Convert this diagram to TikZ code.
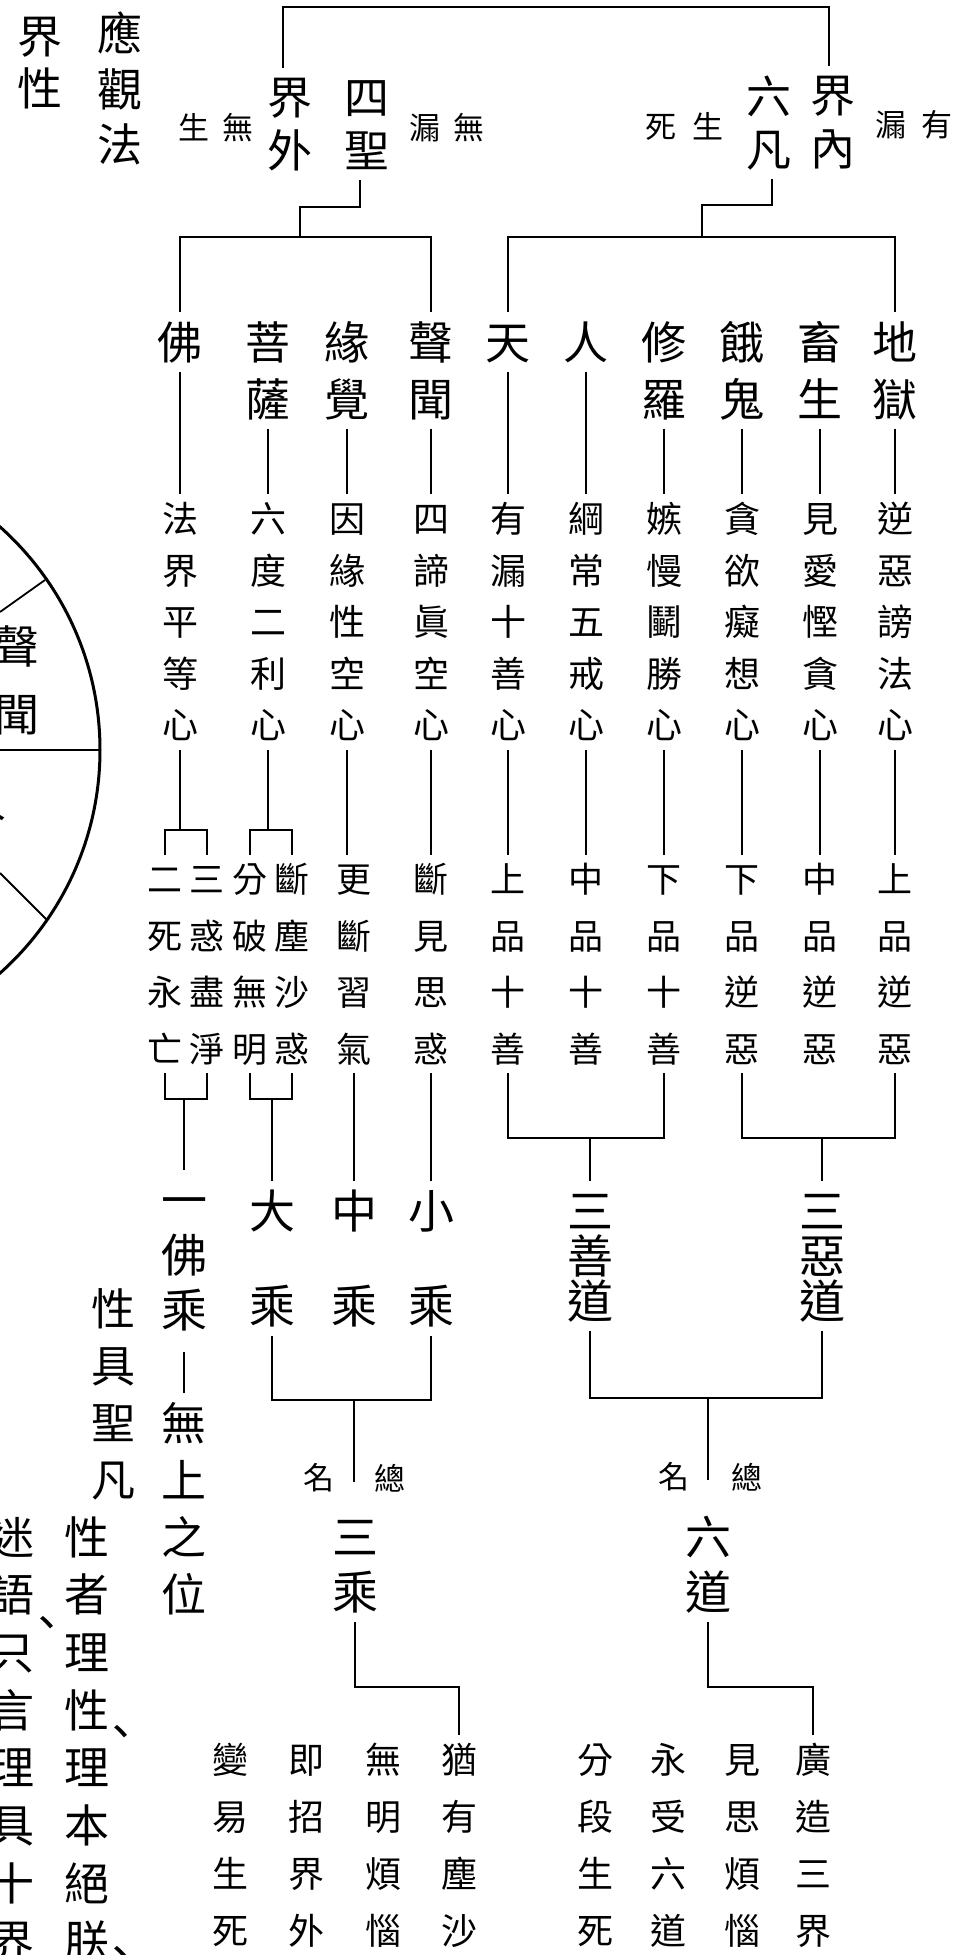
\documentclass[tikz,border=0pt]{standalone}
\usepackage{fontspec}
\usepackage{tikz}
\usetikzlibrary{positioning}
\newfontfamily\cjk{Noto Sans CJK TC}
\newlength\vpitch
\makeatletter
\newcommand\vcol[1]{\vbox{\offinterlineskip\let\vc@sep\relax
  \@tfor\vc@ch:=#1\do{\vc@sep\hbox to 1em{\hss\vrule height .88em depth .12em width 0pt\vc@ch\hss}%
  \def\vc@sep{\kern\dimexpr\vpitch-1em\relax}}}}
\makeatother
\tikzset{
  vt/.style 2 args={inner sep=7pt, font={\cjk\fontsize{#1pt}{#1pt}\selectfont\setlength\vpitch{#2pt}}},
  hd/.style={vt={45}{57}},
  md/.style={vt={36}{51.5}},
  lo/.style={vt={35}{56.5}},
  bt/.style={vt={36}{57}},
  lb/.style={inner sep=7pt, font=\cjk\fontsize{31pt}{31pt}\selectfont},
  pu/.style={inner sep=0pt, font=\cjk\fontsize{45pt}{45pt}\selectfont},
  ln/.style={line width=1.8pt}
}
\begin{document}
\begin{tikzpicture}[x=1pt, y=-1pt]
            \useasboundingbox (0,0) rectangle (960,1955);
            \clip (0,0) rectangle (960,1955);

            % wheel at the left edge
            \draw[line width=3pt] (-199,750) circle[radius=299pt];
            \draw[ln] (0,612) -- (45,580);
            \draw[ln] (0,750) -- (100,750);
            \draw[ln] (0,873) -- (47,920);
            \node[vt={45}{68}] (wc1) at (17,680) {\vcol{聲聞}};
            \node[hd] (wc2) at (-16,800) {\vcol{人}};

            \node[vt={45}{52}] (jx) at (40,62) {\vcol{界性}};
            \node[vt={45}{55.5}] (yg) at (120,89) {\vcol{應觀法}};

            \node[vt={45}{53}] (jw) at (290,124) {\vcol{界外}};
            \node[vt={45}{53}] (sd) at (367,124) {\vcol{四聖}};
            \node[vt={45}{53}] (lf) at (769,123) {\vcol{六凡}};
            \node[vt={45}{53}] (jn) at (833,122) {\vcol{界內}};

            \node[lb] (ws) at (216,128) {生\kern14pt無};
            \node[lb] (wl) at (447,128) {漏\kern14pt無};
            \node[lb] (ss) at (684,126) {死\kern16pt生};
            \node[lb] (yl) at (914,125) {漏\kern15pt有};

            \node[hd] (fo) at (180,342) {\vcol{佛}};
            \node[hd] (ps) at (268,370.5) {\vcol{菩薩}};
            \node[hd] (yj) at (347,370.5) {\vcol{緣覺}};
            \node[hd] (sw) at (431,370.5) {\vcol{聲聞}};
            \node[hd] (tn) at (508,342) {\vcol{天}};
            \node[hd] (rn) at (586,342) {\vcol{人}};
            \node[hd] (xl) at (664,370.5) {\vcol{修羅}};
            \node[hd] (eg) at (742,370.5) {\vcol{餓鬼}};
            \node[hd] (cs) at (820,370.5) {\vcol{畜生}};
            \node[hd] (dy) at (895,370.5) {\vcol{地獄}};

            \node[md] (fx) at (180,622) {\vcol{法界平等心}};
            \node[md] (px) at (268,622) {\vcol{六度二利心}};
            \node[md] (yx) at (347,622) {\vcol{因緣性空心}};
            \node[md] (sx) at (431,622) {\vcol{四諦眞空心}};
            \node[md] (tx) at (508,622) {\vcol{有漏十善心}};
            \node[md] (rx) at (586,622) {\vcol{綱常五戒心}};
            \node[md] (xx) at (664,622) {\vcol{嫉慢鬭勝心}};
            \node[md] (ex) at (742,622) {\vcol{貪欲癡想心}};
            \node[md] (cx) at (820,622) {\vcol{見愛慳貪心}};
            \node[md] (dx) at (895,622) {\vcol{逆惡謗法心}};

            \node[lo] (f1) at (165,964) {\vcol{二死永亡}};
            \node[lo] (f2) at (207,964) {\vcol{三惑盡淨}};
            \node[lo] (p1) at (250,964) {\vcol{分破無明}};
            \node[lo] (p2) at (292,964) {\vcol{斷塵沙惑}};
            \node[lo] (y1) at (354,964) {\vcol{更斷習氣}};
            \node[lo] (s1) at (431,964) {\vcol{斷見思惑}};
            \node[lo] (t1) at (508,964) {\vcol{上品十善}};
            \node[lo] (r1) at (586,964) {\vcol{中品十善}};
            \node[lo] (x1) at (664,964) {\vcol{下品十善}};
            \node[lo] (e1) at (742,964) {\vcol{下品逆惡}};
            \node[lo] (c1) at (820,964) {\vcol{中品逆惡}};
            \node[lo] (d1) at (895,964) {\vcol{上品逆惡}};

            \node[vt={46}{55}] (yf) at (184,1255) {\vcol{一佛乘}};
            \node[vt={46}{95}] (dc) at (272,1258.5) {\vcol{大乘}};
            \node[vt={46}{95}] (zc) at (354,1258.5) {\vcol{中乘}};
            \node[vt={46}{95}] (xc) at (431,1258.5) {\vcol{小乘}};
            \node[vt={46}{45}] (sg) at (590,1256) {\vcol{三善道}};
            \node[vt={46}{45}] (ed) at (822,1256) {\vcol{三惡道}};

            \node[vt={45}{57}] (wsw) at (184,1508.5) {\vcol{無上之位}};
            \node[vt={44}{57}] (jf) at (113,1394.5) {\vcol{性具聖凡}};
            \node[vt={45}{57.7}] (lx) at (87,1739) {\vcol{性者理性理本絕朕}};
            \node[vt={45}{57.7}] (mw) at (12,1739) {\vcol{迷語只言理具十界}};
            \node[pu] (dt1) at (47,1628) {、};
            \node[pu] (dt2) at (121,1737) {、};
            \node[pu] (dt3) at (121,1958) {、};

            \node[lb] (mn1) at (319,1478) {名};
            \node[lb] (zo1) at (390,1478) {總};
            \node[lb] (mn2) at (674,1477) {名};
            \node[lb] (zo2) at (747,1477) {總};
            \node[vt={46}{55}] (sc) at (355,1564.5) {\vcol{三乘}};
            \node[vt={46}{55}] (ld) at (708,1564.5) {\vcol{六道}};

            \node[bt] (b1) at (459,1845.5) {\vcol{猶有塵沙}};
            \node[bt] (b2) at (383,1845.5) {\vcol{無明煩惱}};
            \node[bt] (b3) at (306,1845.5) {\vcol{即招界外}};
            \node[bt] (b4) at (230,1845.5) {\vcol{變易生死}};
            \node[bt] (g1) at (813,1845.5) {\vcol{廣造三界}};
            \node[bt] (g2) at (742,1845.5) {\vcol{見思煩惱}};
            \node[bt] (g3) at (668,1845.5) {\vcol{永受六道}};
            \node[bt] (g4) at (595,1845.5) {\vcol{分段生死}};

            \coordinate (tl) at (283,7);
            \coordinate (tr) at (829,7);
            \coordinate (q1) at (360,207);
            \coordinate (q2) at (300,207);
            \coordinate (q3) at (300,237);
            \coordinate (u1) at (772,205);
            \coordinate (u2) at (702,205);
            \coordinate (u3) at (702,237);
            \coordinate (fb) at (180,830);
            \coordinate (pb) at (268,830);
            \coordinate (fc) at (184,1099);
            \coordinate (pc) at (272,1099);
            \coordinate (vb) at (354,1400);
            \coordinate (ve) at (354,1482);
            \coordinate (sk) at (410,1687);
            \coordinate (gb) at (590,1138);
            \coordinate (eb) at (822,1138);
            \coordinate (lb) at (708,1398);
            \coordinate (le) at (708,1480);
            \coordinate (lk) at (760,1687);

            \draw[ln] (jw.north -| tl) -- (tl) -- (tr) -- (jn.north -| tr);
            \draw[ln] (sd.south -| q1) -- (q1) -- (q2) -- (q3);
            \draw[ln] (fo.north) |- (q3) -| (sw.north);
            \draw[ln] (lf.south -| u1) -- (u1) -- (u2) -- (u3);
            \draw[ln] (tn.north) |- (u3) -| (dy.north);

            \draw[ln] (fo) -- (fx);
            \draw[ln] (ps) -- (px);
            \draw[ln] (yj) -- (yx);
            \draw[ln] (sw) -- (sx);
            \draw[ln] (tn) -- (tx);
            \draw[ln] (rn) -- (rx);
            \draw[ln] (xl) -- (xx);
            \draw[ln] (eg) -- (ex);
            \draw[ln] (cs) -- (cx);
            \draw[ln] (dy) -- (dx);

            \draw[ln] (fx) -- (fb);
            \draw[ln] (f1.north) |- (fb) -| (f2.north);
            \draw[ln] (px) -- (pb);
            \draw[ln] (p1.north) |- (pb) -| (p2.north);
            \draw[ln] (yx) -- (yx |- y1.north);
            \draw[ln] (sx) -- (s1);
            \draw[ln] (tx) -- (t1);
            \draw[ln] (rx) -- (r1);
            \draw[ln] (xx) -- (x1);
            \draw[ln] (ex) -- (e1);
            \draw[ln] (cx) -- (c1);
            \draw[ln] (dx) -- (d1);

            \draw[ln] (f1.south) |- (fc) -| (f2.south);
            \draw[ln] (fc) -- (yf);
            \draw[ln] (p1.south) |- (pc) -| (p2.south);
            \draw[ln] (pc) -- (dc);
            \draw[ln] (y1) -- (zc);
            \draw[ln] (s1) -- (xc);
            \draw[ln] (t1.south) |- (gb) -| (x1.south);
            \draw[ln] (gb) -- (sg);
            \draw[ln] (e1.south) |- (eb) -| (d1.south);
            \draw[ln] (eb) -- (ed);

            \draw[ln, shorten <=12pt] (yf) -- (wsw);
            \draw[ln] (dc.south) |- (vb) -| (xc.south);
            \draw[ln] (vb) -- (ve);
            \draw[ln] (sg.south) |- (lb) -| (ed.south);
            \draw[ln] (lb) -- (le);

            \draw[ln] (sc.south) |- (sk) -| (b1.north);
            \draw[ln] (ld.south) |- (lk) -| (g1.north);

\end{tikzpicture}
\end{document}
